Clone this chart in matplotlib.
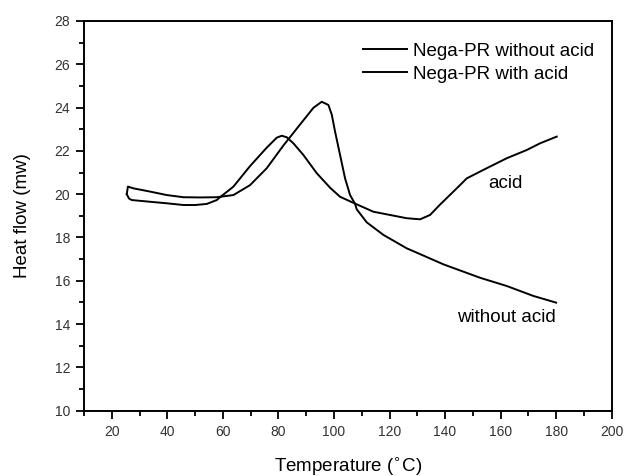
import matplotlib
matplotlib.use("Agg")
import matplotlib.pyplot as plt
from matplotlib.ticker import MultipleLocator

plt.rcParams['font.family'] = ['Liberation Sans', 'DejaVu Sans']

# Nega-PR without acid
temp_without = [25.4, 25.8, 27.8, 33.8, 39.8, 45.8, 51.8, 57.8, 63.8, 69.8,
                75.8, 81.8, 87.8, 92.6, 95.6, 98.0, 99.2, 100.4, 102.2, 104.0,
                105.8, 107.6, 108.2, 111.8, 117.8, 126.2, 129.8, 139.4, 152.6, 162.2,
                171.8, 180.0]
flow_without = [20.0, 20.35, 20.27, 20.12, 19.96, 19.86, 19.85, 19.86, 19.96, 20.42,
                21.2, 22.25, 23.22, 23.99, 24.27, 24.12, 23.68, 22.89, 21.81, 20.73,
                19.96, 19.55, 19.3, 18.7, 18.12, 17.5, 17.3, 16.76, 16.14, 15.76,
                15.3, 14.99]

# Nega-PR with acid
temp_with = [25.4, 26.2, 27.2, 33.8, 39.8, 45.8, 50.0, 54.2, 57.8, 59.0,
             63.8, 69.8, 75.8, 79.4, 81.2, 83.0, 85.4, 89.0, 93.8, 98.6,
             102.2, 107.0, 114.2, 120.2, 126.2, 131.0, 134.6, 138.2, 144.2, 147.8,
             155.0, 162.2, 169.4, 174.2, 180.2]
flow_with = [20.0, 19.8, 19.73, 19.65, 19.58, 19.5, 19.5, 19.55, 19.73, 19.86,
             20.35, 21.3, 22.15, 22.61, 22.7, 22.63, 22.35, 21.81, 20.97, 20.3,
             19.88, 19.6, 19.19, 19.04, 18.89, 18.84, 19.04, 19.52, 20.27, 20.73,
             21.2, 21.66, 22.04, 22.35, 22.66]

fig = plt.figure(figsize=(6.24, 4.76), dpi=100)
ax = fig.add_axes([0.1346, 0.1372, 0.8457, 0.8187])

ax.plot(temp_without, flow_without, color='black', linewidth=1.4,
        label='Nega-PR without acid')
ax.plot(temp_with, flow_with, color='black', linewidth=1.4,
        label='Nega-PR with acid')

ax.set_xlim(10, 200)
ax.set_ylim(10, 28)
ax.xaxis.set_major_locator(MultipleLocator(20))
ax.xaxis.set_minor_locator(MultipleLocator(10))
ax.yaxis.set_major_locator(MultipleLocator(2))
ax.yaxis.set_minor_locator(MultipleLocator(1))
ax.set_xticks(range(20, 201, 20))

for s in ax.spines.values():
    s.set_linewidth(1.4)
ax.tick_params(which='both', direction='out', top=False, right=False,
               width=1.3, labelsize=10, labelcolor='#333333')
ax.tick_params(which='major', length=6, pad=4)
ax.tick_params(which='minor', length=3.5)

ax.set_xlabel('Temperature ($^{\\circ}$C)', fontsize=13.5, labelpad=12)
ax.set_ylabel('Heat flow (mw)', fontsize=13.5, labelpad=17)

ax.text(155.5, 20.5, 'acid', fontsize=13.5, va='center', ha='left')
ax.text(144.4, 14.3, 'without acid', fontsize=13.5, va='center', ha='left')

ax.legend(loc='upper left', bbox_to_anchor=(0.5287, 0.9446), frameon=False,
          fontsize=13.5, handlelength=2.35, handletextpad=0.32,
          labelspacing=0.33, borderpad=0, borderaxespad=0)

fig.savefig('out.png', dpi=100)
